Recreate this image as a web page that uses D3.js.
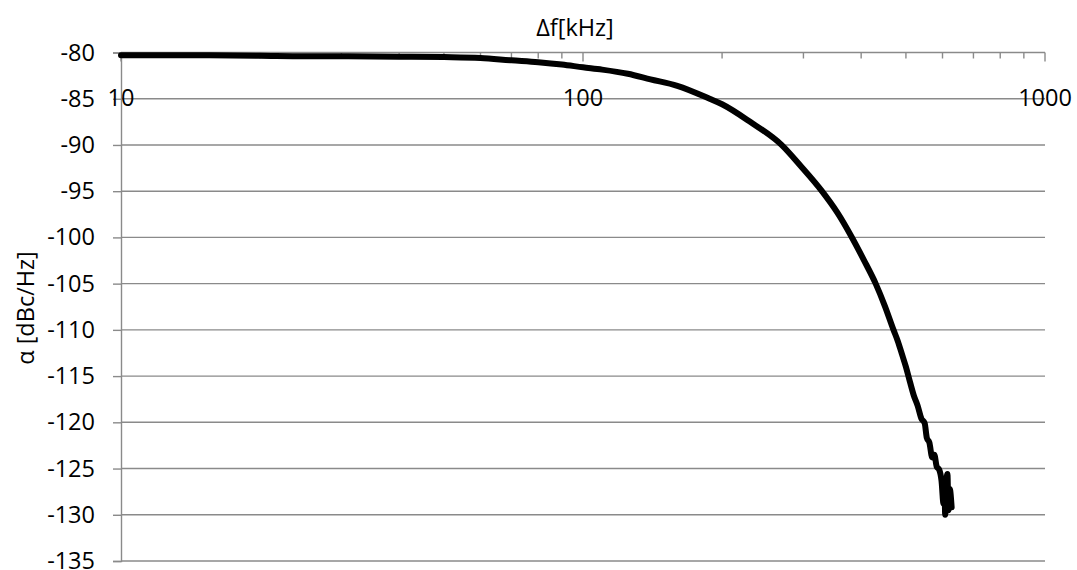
<!DOCTYPE html>
<html>
<head>
<meta charset="utf-8">
<script src="https://cdn.jsdelivr.net/npm/d3@7"></script>
<style>
  html, body { margin: 0; padding: 0; background: #fff; }
  svg { display: block; }
  text { font-family: "Open Sans", "Liberation Sans", sans-serif; fill: #000; }
</style>
</head>
<body>
<svg id="chart" width="1077" height="570"></svg>
<script>
// ---- data ----
const freqKHz = [10, 15, 20, 25, 30, 40, 50, 60, 70, 80, 90, 100, 110, 125, 140, 160, 188, 200, 230, 269, 295, 329, 355, 381, 405, 430, 450, 470, 480, 490, 500, 510, 520, 530, 540, 549, 555, 562, 570, 576, 583, 590, 597, 603, 606, 608, 612, 615, 618, 622, 628];
const noiseDbc = [-80.3, -80.3, -80.35, -80.4, -80.4, -80.45, -80.5, -80.6, -80.85, -81.05, -81.3, -81.6, -81.85, -82.3, -82.9, -83.6, -85.0, -85.6, -87.5, -90.0, -92.2, -95.0, -97.3, -99.9, -102.4, -105.0, -107.4, -110.0, -111.2, -112.6, -114.0, -115.6, -117.1, -118.2, -119.6, -120.1, -121.7, -122.2, -123.8, -123.5, -124.8, -125.1, -126.3, -128.8, -126.6, -130.0, -126.2, -125.6, -129.5, -127.2, -129.2];
const xMajorTicks = [10, 100, 1000];
const xMinorTicks = [20, 30, 40, 50, 60, 70, 80, 90, 200, 300, 400, 500, 600, 700, 800, 900];
const yTicks = [-80, -85, -90, -95, -100, -105, -110, -115, -120, -125, -130, -135];
const xTitle = "Δf[kHz]";
const yTitle = "α [dBc/Hz]";

// ---- layout ----
const svg = d3.select("#chart");
const pL = 121, pR = 1045, pT = 52.5, pB = 561;
const x = d3.scaleLog().domain([10, 1000]).range([pL, pR]);
const y = d3.scaleLinear().domain([-80, -135]).range([pT, pB]);
const grey = "#8a8a8a";
const fs = 23.5;

// gridlines
svg.append("g").selectAll("line").data(yTicks.filter(v => v !== -80)).join("line")
  .attr("x1", pL).attr("x2", pR)
  .attr("y1", d => y(d)).attr("y2", d => y(d))
  .attr("stroke", grey).attr("stroke-width", 1.4);

// y axis
const yAxis = d3.axisLeft(y).tickValues(yTicks).tickSize(8).tickPadding(18).tickFormat(d => d);
const gy = svg.append("g").attr("transform", `translate(${pL},0)`).call(yAxis);
gy.select(".domain").attr("stroke", grey).attr("stroke-width", 1.4);
gy.selectAll(".tick line").attr("stroke", grey).attr("stroke-width", 1.4);
gy.selectAll(".tick text").attr("font-size", fs).attr("font-family", "Open Sans, Liberation Sans, sans-serif").attr("fill", "#000");

// top x axis (ticks pointing down into plot)
const gx = svg.append("g");
gx.append("line").attr("x1", pL).attr("x2", pR).attr("y1", pT).attr("y2", pT)
  .attr("stroke", grey).attr("stroke-width", 1.4);
gx.selectAll("line.minor").data(xMinorTicks).join("line").attr("class", "minor")
  .attr("x1", d => x(d)).attr("x2", d => x(d)).attr("y1", pT).attr("y2", pT + 6)
  .attr("stroke", grey).attr("stroke-width", 1.4);
gx.selectAll("line.major").data(xMajorTicks).join("line").attr("class", "major")
  .attr("x1", d => x(d)).attr("x2", d => x(d)).attr("y1", pT).attr("y2", pT + 9)
  .attr("stroke", grey).attr("stroke-width", 1.4);
gx.selectAll("text").data(xMajorTicks).join("text")
  .attr("x", d => x(d)).attr("y", 106)
  .attr("text-anchor", "middle").attr("font-size", fs)
  .text(d => d);

// curve
const line = d3.line().curve(d3.curveMonotoneX).x((d, i) => x(freqKHz[i])).y(d => y(d));
svg.append("path").datum(noiseDbc)
  .attr("d", line).attr("fill", "none")
  .attr("stroke", "#000").attr("stroke-width", 6)
  .attr("stroke-linejoin", "round").attr("stroke-linecap", "round");

// titles
svg.append("text").attr("x", 575).attr("y", 36).attr("text-anchor", "middle")
  .attr("font-size", fs).text(xTitle);
svg.append("text").attr("transform", "translate(34,308) rotate(-90)")
  .attr("text-anchor", "middle").attr("font-size", fs).text(yTitle);
</script>
</body>
</html>
